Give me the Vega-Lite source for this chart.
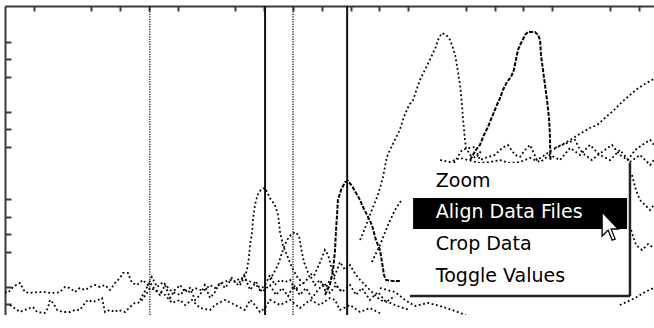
{
"$schema": "https://vega.github.io/schema/vega-lite/v6.json",
"width": 649, "height": 309,
"autosize": {"type": "none"},
"padding": {"left": 5, "top": 6, "right": 0, "bottom": 0},
"background": "white",
"config": {"view": {"stroke": null}},
"datasets": {
"dotted": [
{"s":"n1","x":-10,"y":7.1},{"s":"n1","x":-9.0,"y":6.6},{"s":"n1","x":-7.2,"y":10.0},{"s":"n1","x":-4.8,"y":12.3},{"s":"n1","x":-3.1,"y":7.1},{"s":"n1","x":-1.3,"y":6.6},{"s":"n1","x":1.1,"y":7.1},{"s":"n1","x":3.9,"y":7.1},{"s":"n1","x":5.6,"y":6.6},{"s":"n1","x":7.4,"y":6.6},{"s":"n1","x":9.1,"y":7.1},{"s":"n1","x":10.8,"y":10.0},{"s":"n1","x":12.6,"y":9.4},{"s":"n1","x":14.3,"y":7.1},{"s":"n1","x":16.0,"y":9.4},{"s":"n1","x":17.8,"y":8.3},{"s":"n1","x":19.5,"y":10.0},{"s":"n1","x":21.3,"y":11.1},{"s":"n1","x":23.0,"y":10.0},{"s":"n1","x":24.7,"y":11.1},{"s":"n1","x":26.5,"y":8.3},{"s":"n1","x":28.2,"y":12.3},{"s":"n1","x":29.9,"y":15.1},{"s":"n1","x":31.0,"y":18.0},{"s":"n1","x":32.7,"y":18.0},{"s":"n1","x":34.1,"y":12.3},{"s":"n1","x":35.8,"y":11.1},{"s":"n1","x":37.9,"y":14.0},{"s":"n1","x":39.6,"y":11.1},{"s":"n1","x":41.0,"y":15.7},{"s":"n1","x":42.8,"y":10.0},{"s":"n1","x":44.9,"y":12.8},{"s":"n1","x":47.3,"y":8.3},{"s":"n1","x":49.0,"y":6.6},{"s":"n1","x":50.8,"y":5.4},{"s":"n1","x":52.5,"y":8.3},{"s":"n1","x":54.2,"y":7.1},{"s":"n1","x":56.0,"y":9.4},{"s":"n1","x":57.7,"y":8.3},{"s":"n1","x":59.4,"y":8.3},{"s":"n1","x":61.2,"y":11.1},{"s":"n1","x":62.9,"y":9.4},{"s":"n1","x":65.3,"y":12.3},{"s":"n1","x":68.1,"y":14.0},{"s":"n1","x":69.9,"y":12.8},{"s":"n1","x":71.6,"y":15.1},{"s":"n1","x":73.3,"y":14.0},{"s":"n1","x":76.8,"y":12.3},{"s":"n1","x":78.5,"y":8.3},{"s":"n1","x":80.3,"y":11.1},{"s":"n1","x":82.0,"y":16.8},{"s":"n1","x":83.7,"y":11.1},{"s":"n1","x":85.5,"y":14.0},{"s":"n1","x":87.2,"y":12.8},{"s":"n1","x":89.0,"y":14.0},{"s":"n1","x":90.7,"y":8.3},{"s":"n1","x":92.4,"y":11.1},{"s":"n1","x":94.2,"y":12.8},{"s":"n1","x":95.9,"y":16.8},{"s":"n1","x":97.6,"y":11.1},{"s":"n1","x":99.4,"y":14.0},{"s":"n1","x":101.1,"y":8.3},{"s":"n1","x":102.8,"y":14.0},{"s":"n1","x":104.6,"y":16.8},{"s":"n1","x":106.3,"y":24.2},{"s":"n1","x":108.1,"y":19.7},{"s":"n1","x":109.8,"y":22.5},{"s":"n1","x":111.9,"y":16.8},{"s":"n1","x":113.3,"y":14.0},{"s":"n1","x":116.7,"y":8.3},{"s":"n1","x":120.2,"y":2.6},{"s":"n1","x":123.7,"y":0.9},{"s":"n1","x":127.1,"y":-1.4},{"s":"n1","x":130.6,"y":-3.1},
{"s":"n2","x":-8.3,"y":-0.3},{"s":"n2","x":-4.8,"y":-4.3},{"s":"n2","x":-3.1,"y":-3.1},{"s":"n2","x":-1.3,"y":-2.0},{"s":"n2","x":-0.3,"y":-1.4},{"s":"n2","x":1.1,"y":-4.3},{"s":"n2","x":3.9,"y":-4.8},{"s":"n2","x":4.9,"y":-2.0},{"s":"n2","x":5.6,"y":2.6},{"s":"n2","x":6.7,"y":0.9},{"s":"n2","x":8.1,"y":-3.1},{"s":"n2","x":10.1,"y":-4.3},{"s":"n2","x":12.6,"y":-4.3},{"s":"n2","x":14.3,"y":-3.1},{"s":"n2","x":16.0,"y":-3.1},{"s":"n2","x":17.8,"y":0.9},{"s":"n2","x":18.8,"y":2.6},{"s":"n2","x":20.6,"y":1.4},{"s":"n2","x":22.3,"y":2.6},{"s":"n2","x":23.7,"y":3.7},{"s":"n2","x":24.7,"y":-4.3},{"s":"n2","x":26.5,"y":-3.1},{"s":"n2","x":28.2,"y":-4.3},{"s":"n2","x":29.2,"y":-3.1},{"s":"n2","x":31.7,"y":-4.3},{"s":"n2","x":33.4,"y":-1.4},{"s":"n2","x":35.1,"y":0.9},{"s":"n2","x":36.2,"y":0.9},{"s":"n2","x":37.6,"y":2.6},{"s":"n2","x":39.3,"y":6.6},{"s":"n2","x":40.3,"y":9.4},{"s":"n2","x":42.1,"y":8.3},{"s":"n2","x":43.8,"y":7.1},{"s":"n2","x":45.6,"y":5.4},{"s":"n2","x":48.0,"y":0.9},{"s":"n2","x":50.8,"y":2.6},{"s":"n2","x":52.5,"y":-0.3},{"s":"n2","x":54.9,"y":2.6},{"s":"n2","x":57.7,"y":-2.0},{"s":"n2","x":61.2,"y":-3.1},{"s":"n2","x":62.9,"y":-0.3},{"s":"n2","x":66.4,"y":2.6},{"s":"n2","x":69.9,"y":-0.3},{"s":"n2","x":73.3,"y":-3.1},{"s":"n2","x":75.1,"y":2.6},{"s":"n2","x":76.8,"y":-0.3},{"s":"n2","x":78.5,"y":-4.3},{"s":"n2","x":80.3,"y":-2.0},{"s":"n2","x":82.0,"y":2.6},{"s":"n2","x":85.5,"y":-0.3},{"s":"n2","x":89.0,"y":2.6},{"s":"n2","x":92.4,"y":-2.0},{"s":"n2","x":95.9,"y":2.6},{"s":"n2","x":99.4,"y":-0.3},{"s":"n2","x":102.8,"y":3.7},{"s":"n2","x":104.6,"y":2.6},{"s":"n2","x":106.3,"y":-3.1},{"s":"n2","x":109.8,"y":-0.3},{"s":"n2","x":113.3,"y":-4.3},{"s":"n2","x":116.7,"y":-2.0},{"s":"n2","x":120.2,"y":-5.0},
{"s":"n3","x":36.9,"y":2.6},{"s":"n3","x":40.3,"y":12.8},{"s":"n3","x":42.1,"y":8.3},{"s":"n3","x":43.8,"y":5.4},{"s":"n3","x":45.6,"y":11.1},{"s":"n3","x":47.3,"y":3.7},{"s":"n3","x":49.0,"y":8.3},{"s":"n3","x":50.8,"y":11.1},{"s":"n3","x":52.5,"y":7.1},{"s":"n3","x":54.2,"y":9.4},{"s":"n3","x":56.0,"y":2.6},{"s":"n3","x":57.7,"y":5.4},{"s":"n3","x":59.4,"y":11.1},{"s":"n3","x":61.2,"y":3.7},{"s":"n3","x":62.9,"y":7.1},{"s":"n3","x":64.6,"y":12.8},{"s":"n3","x":66.4,"y":9.4},{"s":"n3","x":68.8,"y":15.1},{"s":"n3","x":70.9,"y":11.1},{"s":"n3","x":73.0,"y":16.8},{"s":"n3","x":75.1,"y":8.3},{"s":"n3","x":77.2,"y":12.8},{"s":"n3","x":79.2,"y":7.1},{"s":"n3","x":82.0,"y":11.1},{"s":"n3","x":84.1,"y":5.4},{"s":"n3","x":86.2,"y":9.4},{"s":"n3","x":88.3,"y":4.8},{"s":"n3","x":90.3,"y":11.1},{"s":"n3","x":92.4,"y":5.4},{"s":"n3","x":94.5,"y":9.4},{"s":"n3","x":96.6,"y":3.7},{"s":"n3","x":98.7,"y":8.3},{"s":"n3","x":100.8,"y":12.3},{"s":"n3","x":102.8,"y":6.6},{"s":"n3","x":104.9,"y":11.1},{"s":"n3","x":107.0,"y":7.1},{"s":"n3","x":109.8,"y":11.1},{"s":"n3","x":111.9,"y":5.4},{"s":"n3","x":113.9,"y":9.4},{"s":"n3","x":116.7,"y":2.6},{"s":"n3","x":119.5,"y":7.1},{"s":"n3","x":122.3,"y":1.4},{"s":"n3","x":125.4,"y":4.8},
{"s":"D","x":71.6,"y":11.1},{"s":"D","x":73.0,"y":15.1},{"s":"D","x":74.0,"y":19.7},{"s":"D","x":74.7,"y":26.5},{"s":"D","x":75.1,"y":33.9},{"s":"D","x":75.8,"y":41.4},{"s":"D","x":76.1,"y":48.2},{"s":"D","x":76.8,"y":56.8},{"s":"D","x":77.5,"y":61.3},{"s":"D","x":78.2,"y":64.2},{"s":"D","x":79.2,"y":65.9},{"s":"D","x":80.3,"y":66.5},{"s":"D","x":82.0,"y":60.8},{"s":"D","x":83.7,"y":56.8},{"s":"D","x":84.8,"y":51.1},{"s":"D","x":85.5,"y":41.4},{"s":"D","x":86.5,"y":33.9},{"s":"D","x":87.9,"y":28.2},{"s":"D","x":89.7,"y":20.8},{"s":"D","x":91.7,"y":15.1},{"s":"D","x":94.2,"y":11.1},
{"s":"E","x":82.0,"y":14.0},{"s":"E","x":84.8,"y":22.5},{"s":"E","x":86.5,"y":31.1},{"s":"E","x":87.9,"y":36.8},{"s":"E","x":89.3,"y":39.7},{"s":"E","x":90.7,"y":41.4},{"s":"E","x":92.1,"y":39.1},{"s":"E","x":92.8,"y":32.2},{"s":"E","x":93.8,"y":24.2},{"s":"E","x":95.2,"y":18.5},{"s":"E","x":97.3,"y":16.3},{"s":"E","x":99.4,"y":24.2},{"s":"E","x":101.1,"y":31.1},{"s":"E","x":102.2,"y":28.2},{"s":"E","x":103.6,"y":19.7},{"s":"E","x":104.9,"y":11.1},{"s":"E","x":107.0,"y":7.1},
{"s":"F","x":117.4,"y":24.2},{"s":"F","x":120.2,"y":33.9},{"s":"F","x":123.0,"y":45.4},{"s":"F","x":125.4,"y":53.9},{"s":"F","x":127.9,"y":60.2},
{"s":"A","x":113.3,"y":36.8},{"s":"A","x":115.0,"y":43.6},{"s":"A","x":116.7,"y":51.1},{"s":"A","x":118.1,"y":56.8},{"s":"A","x":119.5,"y":62.5},{"s":"A","x":121.2,"y":72.2},{"s":"A","x":121.9,"y":78.5},{"s":"A","x":122.6,"y":84.2},{"s":"A","x":124.0,"y":89.3},{"s":"A","x":125.4,"y":93.9},{"s":"A","x":127.1,"y":99.6},{"s":"A","x":128.5,"y":107.0},{"s":"A","x":130.3,"y":113.8},{"s":"A","x":131.7,"y":116.7},{"s":"A","x":133.1,"y":123.5},{"s":"A","x":134.1,"y":128.1},{"s":"A","x":135.8,"y":133.8},{"s":"A","x":137.2,"y":138.4},{"s":"A","x":138.6,"y":143.5},{"s":"A","x":139.6,"y":146.9},{"s":"A","x":140.3,"y":150.9},{"s":"A","x":141.7,"y":154.9},{"s":"A","x":143.1,"y":153.8},{"s":"A","x":144.2,"y":152.1},{"s":"A","x":145.2,"y":148.1},{"s":"A","x":146.3,"y":142.4},{"s":"A","x":147.3,"y":132.7},{"s":"A","x":148.0,"y":125.2},{"s":"A","x":148.7,"y":113.8},{"s":"A","x":149.0,"y":106.4},{"s":"A","x":149.4,"y":99.6},{"s":"A","x":149.7,"y":93.9},{"s":"A","x":150.1,"y":89.3},{"s":"A","x":151.5,"y":85.3},{"s":"A","x":153.5,"y":83.6},{"s":"A","x":155.6,"y":88.2},
{"s":"G","x":181.0,"y":89.3},{"s":"G","x":184.5,"y":92.1},{"s":"G","x":187.9,"y":95.6},{"s":"G","x":190.7,"y":98.4},{"s":"G","x":193.1,"y":100.7},{"s":"G","x":195.6,"y":102.4},{"s":"G","x":198.3,"y":106.4},{"s":"G","x":201.5,"y":111.0},{"s":"G","x":204.2,"y":115.5},{"s":"G","x":207.0,"y":119.5},{"s":"G","x":209.5,"y":123.0},{"s":"G","x":212.2,"y":125.8},{"s":"G","x":215.3,"y":128.7},
{"s":"H1","x":145.9,"y":80.7},{"s":"H1","x":148.7,"y":88.2},{"s":"H1","x":151.5,"y":89.3},{"s":"H1","x":153.2,"y":89.9},{"s":"H1","x":154.9,"y":82.4},{"s":"H1","x":157.7,"y":84.2},{"s":"H1","x":160.1,"y":85.3},{"s":"H1","x":162.6,"y":89.3},{"s":"H1","x":164.6,"y":91.0},{"s":"H1","x":167.1,"y":85.3},{"s":"H1","x":168.8,"y":84.2},{"s":"H1","x":170.6,"y":88.2},{"s":"H1","x":172.3,"y":91.0},{"s":"H1","x":174.7,"y":82.4},{"s":"H1","x":177.5,"y":85.3},{"s":"H1","x":179.9,"y":88.2},{"s":"H1","x":183.4,"y":91.0},{"s":"H1","x":185.1,"y":92.1},{"s":"H1","x":187.9,"y":93.9},{"s":"H1","x":189.7,"y":88.2},{"s":"H1","x":191.4,"y":85.3},{"s":"H1","x":193.8,"y":82.4},{"s":"H1","x":195.9,"y":85.3},{"s":"H1","x":198.3,"y":88.2},{"s":"H1","x":200.8,"y":91.0},{"s":"H1","x":203.5,"y":85.3},{"s":"H1","x":206.3,"y":82.4},{"s":"H1","x":208.8,"y":88.2},{"s":"H1","x":211.2,"y":91.0},{"s":"H1","x":214.0,"y":93.9},{"s":"H1","x":215.3,"y":91.0},
{"s":"H2","x":141.1,"y":82.4},{"s":"H2","x":144.5,"y":81.3},{"s":"H2","x":148.0,"y":83.6},{"s":"H2","x":150.8,"y":82.4},{"s":"H2","x":154.9,"y":80.7},{"s":"H2","x":158.4,"y":81.3},{"s":"H2","x":161.9,"y":82.4},{"s":"H2","x":165.3,"y":80.7},{"s":"H2","x":168.8,"y":81.3},{"s":"H2","x":172.3,"y":83.6},{"s":"H2","x":175.8,"y":81.3},{"s":"H2","x":179.2,"y":85.3},{"s":"H2","x":182.7,"y":82.4},{"s":"H2","x":186.2,"y":89.3},{"s":"H2","x":189.7,"y":85.3},{"s":"H2","x":193.1,"y":91.0},{"s":"H2","x":196.6,"y":85.3},{"s":"H2","x":200.1,"y":82.4},{"s":"H2","x":203.5,"y":88.2},{"s":"H2","x":207.0,"y":81.3},{"s":"H2","x":210.5,"y":85.3},{"s":"H2","x":214.0,"y":79.6},{"s":"H2","x":215.3,"y":82.4},
{"s":"R","x":207.7,"y":73.9},{"s":"R","x":209.1,"y":65.3},{"s":"R","x":210.5,"y":59.6},{"s":"R","x":212.2,"y":56.8},{"s":"R","x":214.0,"y":53.9},{"s":"R","x":215.3,"y":56.8},
{"s":"R1","x":207.4,"y":42.5},{"s":"R1","x":209.1,"y":33.9},{"s":"R1","x":211.2,"y":31.1},{"s":"R1","x":213.3,"y":34.5},{"s":"R1","x":215.3,"y":32.2},
{"s":"BR","x":203.5,"y":-0.3},{"s":"BR","x":208.8,"y":3.7},{"s":"BR","x":212.2,"y":7.1},{"s":"BR","x":215.3,"y":9.4},
{"s":"B2","x":120.2,"y":9.4},{"s":"B2","x":125.4,"y":7.1},{"s":"B2","x":128.9,"y":2.6},{"s":"B2","x":132.3,"y":-0.9},{"s":"B2","x":136.9,"y":0.9},{"s":"B2","x":141.1,"y":-0.9},{"s":"B2","x":145.2,"y":-3.1},{"s":"B2","x":150.0,"y":-6.0}
],
"dashed": [
{"s":"C","x":101.1,"y":5.4},{"s":"C","x":102.8,"y":11.1},{"s":"C","x":103.9,"y":19.7},{"s":"C","x":104.6,"y":31.1},{"s":"C","x":104.9,"y":41.4},{"s":"C","x":105.3,"y":51.1},{"s":"C","x":105.6,"y":59.6},{"s":"C","x":106.7,"y":65.3},{"s":"C","x":108.1,"y":69.9},{"s":"C","x":109.1,"y":70.5},{"s":"C","x":110.5,"y":67.6},{"s":"C","x":111.9,"y":63.6},{"s":"C","x":113.3,"y":59.6},{"s":"C","x":114.3,"y":55.6},{"s":"C","x":115.7,"y":51.1},{"s":"C","x":117.4,"y":45.4},{"s":"C","x":118.8,"y":36.8},{"s":"C","x":120.2,"y":31.1},{"s":"C","x":120.9,"y":24.2},{"s":"C","x":121.6,"y":16.8},{"s":"C","x":122.3,"y":14.0},{"s":"C","x":124.7,"y":13.4},{"s":"C","x":127.1,"y":13.4},
{"s":"B","x":151.5,"y":82.4},{"s":"B","x":153.5,"y":88.2},{"s":"B","x":154.9,"y":91.0},{"s":"B","x":156.3,"y":96.7},{"s":"B","x":157.7,"y":101.3},{"s":"B","x":159.1,"y":107.0},{"s":"B","x":160.5,"y":112.7},{"s":"B","x":161.9,"y":117.8},{"s":"B","x":162.9,"y":122.4},{"s":"B","x":164.3,"y":127.0},{"s":"B","x":165.7,"y":129.8},{"s":"B","x":166.7,"y":133.8},{"s":"B","x":167.4,"y":139.5},{"s":"B","x":168.1,"y":145.2},{"s":"B","x":169.2,"y":149.2},{"s":"B","x":170.6,"y":153.8},{"s":"B","x":171.6,"y":155.5},{"s":"B","x":174.0,"y":155.5},{"s":"B","x":175.1,"y":153.8},{"s":"B","x":175.8,"y":150.9},{"s":"B","x":176.1,"y":142.4},{"s":"B","x":176.8,"y":133.8},{"s":"B","x":177.5,"y":125.2},{"s":"B","x":178.2,"y":116.7},{"s":"B","x":178.9,"y":106.4},{"s":"B","x":179.2,"y":96.7},{"s":"B","x":179.4,"y":82.4}
],
"vdotted": [{"x":40.3,"y":-6,"y2":170.3},{"x":90.0,"y":-6,"y2":170.3}],
"vsolid": [{"x":80.3,"y":-6,"y2":170.3},{"x":108.8,"y":-6,"y2":170.3}],
"menu": [{"x":130.6,"x2":207.0,"y":4.8,"y2":80.7}],
"highlight": [{"x":131.7,"x2":206.0,"y":43.1,"y2":60.8}],
"edges": [{"x":207.0,"x2":207.0,"y":4.8,"y2":80.7},{"x":130.6,"x2":207.0,"y":4.8,"y2":4.8}],
"items": [
{"label":"Zoom","x":139.6,"y":67.0,"c":"black"},
{"label":"Align Data Files","x":139.6,"y":49.4,"c":"white"},
{"label":"Crop Data","x":139.6,"y":31.1,"c":"black"},
{"label":"Toggle Values","x":139.6,"y":12.8,"c":"black"}
],
"cursor": [{"x":200.2,"y":44.6}]
},
"encoding": {
"x": {"field":"x","type":"quantitative","scale":{"domain":[-10,215.35],"nice":false,"zero":false},
 "axis":{"orient":"top","values":[0,20,30,40,50,70,80,90,100,110,120,130,150,160,170,180,200,210],"labels":false,"title":null,"grid":false,"domainColor":"#3a3a3a","domainWidth":2,"tickColor":"#3a3a3a","tickWidth":2,"tickSize":-5}},
"y": {"field":"y","type":"quantitative","scale":{"domain":[-6,170.3],"nice":false,"zero":false},
 "axis":{"orient":"left","values":[0,10,30,40,50,60,90,100,110,130,140,150],"labels":false,"title":null,"grid":false,"domainColor":"#3a3a3a","domainWidth":2,"tickColor":"#3a3a3a","tickWidth":2,"tickSize":-6}}
},
"layer": [
{"data":{"name":"vdotted"},"mark":{"type":"rule","color":"#1a1a1a","strokeWidth":1.3,"strokeDash":[1.2,1.3],"clip":true},"encoding":{"y2":{"field":"y2"}}},
{"data":{"name":"vsolid"},"mark":{"type":"rule","color":"#111","strokeWidth":2,"clip":true},"encoding":{"y2":{"field":"y2"}}},
{"data":{"name":"dotted"},"mark":{"type":"line","color":"black","strokeWidth":1.8,"strokeDash":[1.8,2.6],"clip":true,"interpolate":"linear"},"encoding":{"detail":{"field":"s"}}},
{"data":{"name":"dashed"},"mark":{"type":"line","color":"black","strokeWidth":2,"strokeDash":[4,1.5],"clip":true},"encoding":{"detail":{"field":"s"}}},
{"data":{"name":"menu"},"mark":{"type":"rect","color":"white","clip":true},"encoding":{"x2":{"field":"x2"},"y2":{"field":"y2"}}},
{"data":{"name":"highlight"},"mark":{"type":"rect","color":"black","clip":true},"encoding":{"x2":{"field":"x2"},"y2":{"field":"y2"}}},
{"data":{"name":"edges"},"mark":{"type":"rule","color":"#222","strokeWidth":2.5,"clip":true},"encoding":{"x2":{"field":"x2"},"y2":{"field":"y2"}}},
{"data":{"name":"items"},"mark":{"type":"text","align":"left","baseline":"alphabetic","font":"DejaVu Sans","fontSize":19},"encoding":{"text":{"field":"label"},"color":{"field":"c","type":"nominal","scale":null}}},
{"data":{"name":"cursor"},"mark":{"type":"point","shape":"M-0.55,-0.95L-0.55,0.65L-0.15,0.25L0.12,0.92L0.32,0.85L0.05,0.18L0.52,0.18Z","size":900,"filled":true,"fill":"white","stroke":"black","strokeWidth":1.3,"opacity":1}}
]
}
